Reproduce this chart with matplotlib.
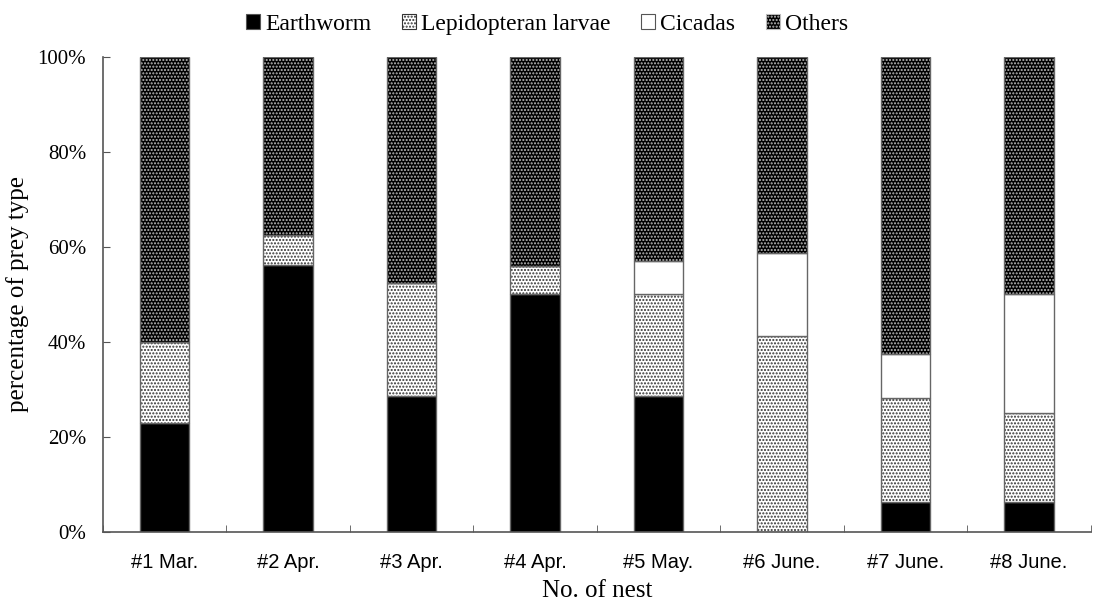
import numpy as np
import matplotlib.pyplot as plt
from matplotlib.ticker import FuncFormatter, FixedLocator
from matplotlib.patches import Patch

nests = ['#1 Mar.', '#2 Apr.', '#3 Apr.', '#4 Apr.', '#5 May.', '#6 June.', '#7 June.', '#8 June.']
earthworm = [22.9, 56.25, 28.6, 50.0, 28.6, 0.0, 6.25, 6.25]
lepidoptera = [17.1, 6.25, 23.8, 5.9, 21.4, 41.2, 21.9, 18.75]
cicadas = [0.0, 0.0, 0.0, 0.0, 7.1, 17.6, 9.4, 25.0]
others = [60.0, 37.5, 47.6, 44.1, 42.9, 41.2, 62.5, 50.0]

serif = ['Liberation Serif', 'DejaVu Serif']
narrow = ['Liberation Sans Narrow', 'Liberation Sans', 'DejaVu Sans']

plt.rcParams['hatch.linewidth'] = 1.0

fig = plt.figure(figsize=(10.94, 6.01), dpi=100)
ax = fig.add_axes([0.094, 0.115, 0.903, 0.79])

x = np.arange(len(nests))
w = 0.4
series = [
    ('Earthworm', earthworm, 'black', None, 'black'),
    ('Lepidopteran larvae', lepidoptera, 'white', '.....', '#333333'),
    ('Cicadas', cicadas, 'white', None, 'white'),
    ('Others', others, 'black', '.....', '#bbbbbb'),
]
bottom = np.zeros(len(nests))
handles = []
for name, vals, fc, hatch, hc in series:
    vals = np.array(vals)
    ax.bar(x, vals, w, bottom=bottom, color=fc, hatch=hatch, edgecolor=hc, linewidth=0)
    ax.bar(x, vals, w, bottom=bottom, facecolor='none', edgecolor='#666666', linewidth=1.0)
    bottom += vals
    handles.append(Patch(facecolor=fc, hatch=hatch, edgecolor='#555555' if hatch is None else hc, linewidth=0.8))

ax.set_xlim(-0.5, len(nests) - 0.5)
ax.set_ylim(0, 100)
ax.set_yticks(np.arange(0, 101, 20))
ax.yaxis.set_major_formatter(FuncFormatter(lambda v, p: f'{int(v)}%'))
ax.set_xticks(x)
ax.set_xticklabels(nests, family=narrow, fontsize=14.5)
ax.xaxis.set_minor_locator(FixedLocator(np.arange(-0.5, len(nests), 1.0)))
ax.tick_params(axis='x', which='major', length=0, pad=15)
ax.tick_params(axis='x', which='minor', direction='in', length=5, color='#555555')
ax.tick_params(axis='y', direction='in', length=5, color='#555555', pad=12)
for lab in ax.get_yticklabels():
    lab.set_family(serif)
    lab.set_fontsize(15)

for s in ['top', 'right']:
    ax.spines[s].set_visible(False)
for s in ['left', 'bottom']:
    ax.spines[s].set_color('#555555')
    ax.spines[s].set_linewidth(1.2)

ax.set_ylabel('percentage of prey type', family=serif, fontsize=18, labelpad=6)
ax.set_xlabel('No. of nest', family=serif, fontsize=18, labelpad=6)

fig.legend(handles, [s[0] for s in series], loc='upper center', bbox_to_anchor=(0.5, 1.012),
           ncol=4, frameon=False, prop={'family': serif, 'size': 17},
           handlelength=0.6, handleheight=0.6, handletextpad=0.2, columnspacing=1.3)

fig.savefig('out.png', dpi=100)
